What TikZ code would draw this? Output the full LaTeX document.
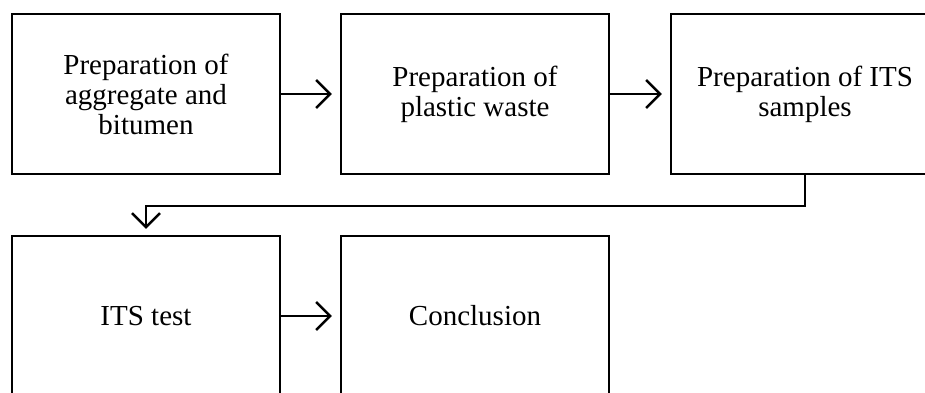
\documentclass[tikz,border=0pt]{standalone}
\usepackage{fontspec}
\setmainfont{Liberation Serif}
\usetikzlibrary{arrows.meta,positioning}

\begin{document}
\begin{tikzpicture}[x=1pt, y=-1pt,
    stage/.style={rectangle, draw=black, line width=2.4pt, minimum width=268pt,
                  minimum height=160pt, align=center, inner sep=0pt,
                  font=\fontsize{29}{30}\selectfont},
    arrow/.style={-{Straight Barb[length=14pt,width=28pt,line width=2.4pt]}, line width=2.4pt, shorten >=8pt}
]
\clip (0,0) rectangle (925,392);

\node[stage] (s1) at (146,94) {Preparation of\\aggregate and\\bitumen};
\node[stage] (s2) at (475,94) {Preparation of\\plastic waste};
\node[stage] (s3) at (805,94) {Preparation of ITS\\samples};
\node[stage] (s4) at (146,316) {ITS test};
\node[stage] (s5) at (475,316) {Conclusion};

\draw[arrow] (s1) -- (s2);
\draw[arrow] (s2) -- (s3);
\draw[arrow, shorten >=6pt] (s3.south) -- ++(0,31) -| (s4.north);
\draw[arrow] (s4) -- (s5);

\end{tikzpicture}
\end{document}
